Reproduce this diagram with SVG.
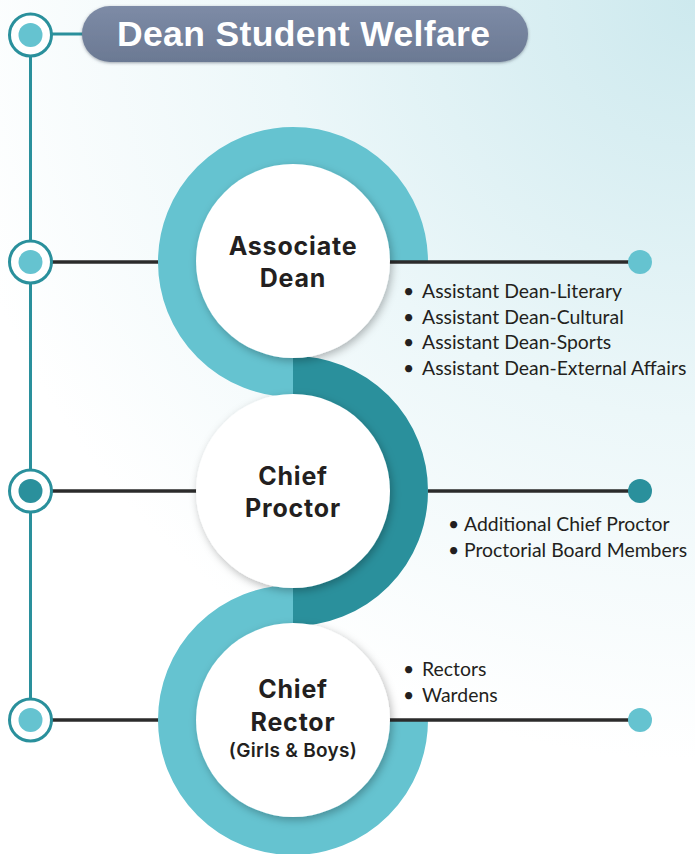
<svg xmlns="http://www.w3.org/2000/svg" width="695" height="854" viewBox="0 0 695 854">
  <defs>
    <radialGradient id="bg" cx="695" cy="0" r="760" gradientUnits="userSpaceOnUse">
      <stop offset="0" stop-color="#cde9ee"/>
      <stop offset="0.55" stop-color="#ecf7f9"/>
      <stop offset="1" stop-color="#ffffff"/>
    </radialGradient>
    <linearGradient id="pill" x1="0" y1="0" x2="0" y2="1">
      <stop offset="0" stop-color="#7d8ba6"/>
      <stop offset="1" stop-color="#6b7993"/>
    </linearGradient>
    <filter id="shadow" x="-20%" y="-20%" width="140%" height="140%">
      <feDropShadow dx="2" dy="3" stdDeviation="4" flood-color="#000" flood-opacity="0.28"/>
    </filter>
    <filter id="pshadow" x="-10%" y="-30%" width="120%" height="160%">
      <feDropShadow dx="0" dy="1" stdDeviation="1.5" flood-color="#3a4458" flood-opacity="0.5"/>
    </filter>
  </defs>
  <style>
    .ring { fill: none; stroke-width: 40; stroke-linecap: butt; }
    .light { stroke: #65c3d0; }
    .dark { stroke: #2a909c; }
    .hline { stroke: #2b2b2b; stroke-width: 3.5; }
    .vline { stroke: #2a909c; stroke-width: 3; }
    .marker { fill: #ffffff; stroke: #2a909c; stroke-width: 3; }
    .dotL { fill: #65c3d0; }
    .dotD { fill: #2a909c; }
    .disc { fill: #ffffff; filter: url(#shadow); }
    .node { font-family: Inter, "DejaVu Sans", sans-serif; font-weight: 700; fill: #231f20; text-anchor: middle; font-size: 25px; letter-spacing: 0.8px; }
    .sub { font-size: 19px; letter-spacing: 0.3px; font-weight: 600; }
    .item { font-family: Lato, "Open Sans", sans-serif; font-size: 19.4px; fill: #231f20; }
    .title { font-family: "Liberation Sans", Arial, sans-serif; font-weight: 700; font-size: 35.5px; fill: #ffffff; }
  </style>

  <rect x="0" y="0" width="695" height="854" fill="url(#bg)"/>

  <g id="connectors">
    <line class="vline" x1="30.5" y1="35" x2="30.5" y2="720"/>
    <line class="vline" x1="51" y1="34" x2="84" y2="34"/>
    <line class="hline" x1="52" y1="262" x2="160" y2="262"/>
    <line class="hline" x1="52" y1="491" x2="197" y2="491"/>
    <line class="hline" x1="428" y1="491" x2="640" y2="491"/>
    <line class="hline" x1="52" y1="720" x2="160" y2="720"/>
  </g>

  <g id="rings">
    <path class="ring dark" d="M 293 376 A 115 115 0 0 1 293 606"/>
    <path class="ring light" d="M 408 262 A 115 115 0 1 0 293 377"/>
    <path class="ring light" d="M 293 605 A 115 115 0 1 0 408 720"/>
  </g>

  <g id="right-lines">
    <line class="hline" x1="388" y1="262" x2="640" y2="262"/>
    <line class="hline" x1="388" y1="720" x2="640" y2="720"/>
    <circle class="dotL" cx="640" cy="262" r="12"/>
    <circle class="dotD" cx="640" cy="491" r="12"/>
    <circle class="dotL" cx="640" cy="720" r="12"/>
  </g>

  <g id="markers">
    <circle class="marker" cx="30.5" cy="35" r="21"/>
    <circle class="dotL" cx="30.5" cy="35" r="12"/>
    <circle class="marker" cx="30.5" cy="262" r="21"/>
    <circle class="dotL" cx="30.5" cy="262" r="12"/>
    <circle class="marker" cx="30.5" cy="491" r="21"/>
    <circle class="dotD" cx="30.5" cy="491" r="12"/>
    <circle class="marker" cx="30.5" cy="720" r="21"/>
    <circle class="dotL" cx="30.5" cy="720" r="12"/>
  </g>

  <g id="title">
    <rect x="82" y="6" width="446" height="56" rx="28" fill="url(#pill)" filter="url(#pshadow)"/>
    <text class="title" x="117" y="46" textLength="373" lengthAdjust="spacing">Dean Student Welfare</text>
  </g>

  <g id="associate-dean">
    <circle class="disc" cx="293" cy="261" r="97"/>
    <text class="node" x="293" y="255">Associate</text>
    <text class="node" x="293" y="287">Dean</text>
  </g>

  <g id="chief-proctor">
    <circle class="disc" cx="293" cy="491" r="97"/>
    <text class="node" x="293" y="485">Chief</text>
    <text class="node" x="293" y="517">Proctor</text>
  </g>

  <g id="chief-rector">
    <circle class="disc" cx="293" cy="720" r="97"/>
    <text class="node" x="293" y="698">Chief</text>
    <text class="node" x="293" y="731">Rector</text>
    <text class="node sub" x="293" y="757">(Girls &amp; Boys)</text>
  </g>

  <g id="list-associate">
    <text class="item" x="403" y="298">•</text><text class="item" x="422" y="298">Assistant Dean-Literary</text>
    <text class="item" x="403" y="324">•</text><text class="item" x="422" y="324">Assistant Dean-Cultural</text>
    <text class="item" x="403" y="349">•</text><text class="item" x="422" y="349">Assistant Dean-Sports</text>
    <text class="item" x="403" y="375">•</text><text class="item" x="422" y="375">Assistant Dean-External Affairs</text>
  </g>

  <g id="list-proctor">
    <text class="item" x="448" y="531">•</text><text class="item" x="464" y="531">Additional Chief Proctor</text>
    <text class="item" x="448" y="557">•</text><text class="item" x="464" y="557">Proctorial Board Members</text>
  </g>

  <g id="list-rector">
    <text class="item" x="403" y="676">•</text><text class="item" x="422" y="676">Rectors</text>
    <text class="item" x="403" y="702">•</text><text class="item" x="422" y="702">Wardens</text>
  </g>
</svg>
